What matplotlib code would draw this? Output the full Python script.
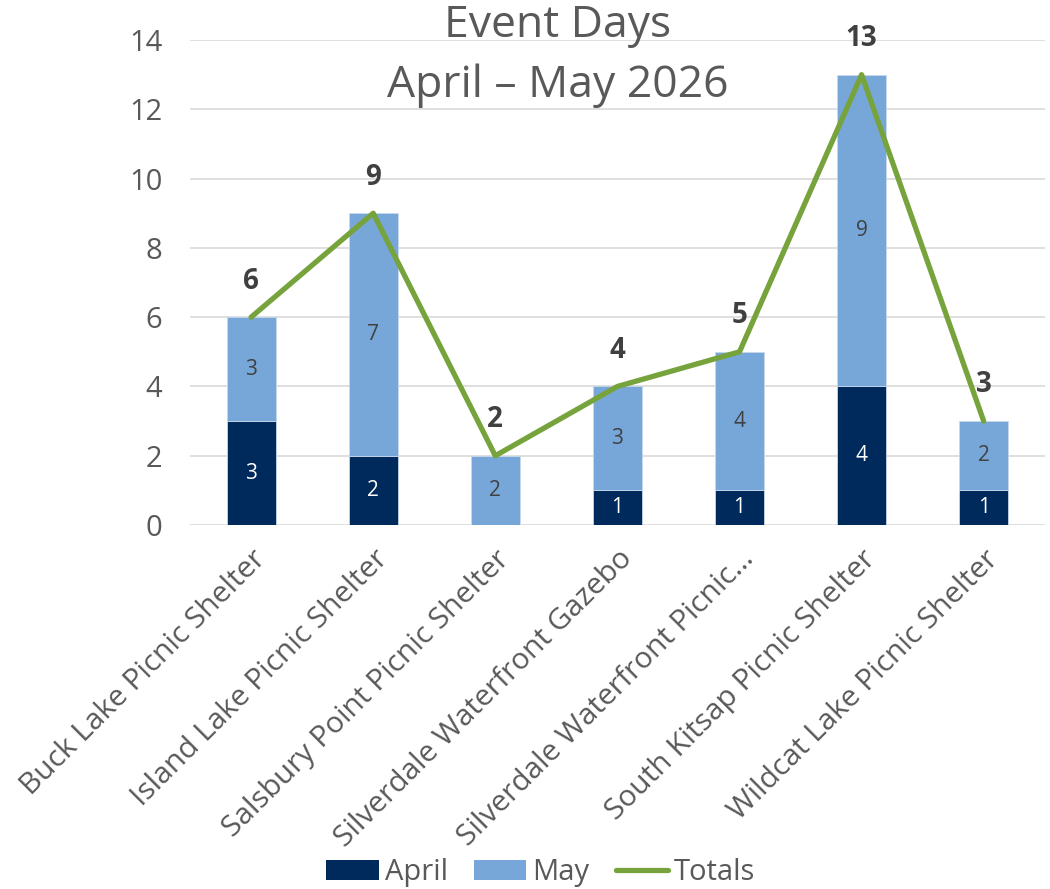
import matplotlib
matplotlib.use("Agg")
import matplotlib.pyplot as plt
import numpy as np
from matplotlib.patches import Patch
from matplotlib.lines import Line2D

categories = ["Buck Lake Picnic Shelter", "Island Lake Picnic Shelter",
              "Salsbury Point Picnic Shelter", "Silverdale Waterfront Gazebo",
              "Silverdale Waterfront Picnic…", "South Kitsap Picnic Shelter",
              "Wildcat Lake Picnic Shelter"]
april = [3, 2, 0, 1, 1, 4, 1]
may = [3, 7, 2, 3, 4, 9, 2]
totals = [6, 9, 2, 4, 5, 13, 3]
yticks = [0, 2, 4, 6, 8, 10, 12, 14]

plt.rcParams['font.family'] = ['Open Sans', 'DejaVu Sans']
C_APR = "#002A5C"
C_MAY = "#77A7D8"
C_TOT = "#77A33C"
GRAY = "#595959"

fig = plt.figure(figsize=(10.5, 8.89), dpi=100)
ax = fig.add_axes([0.181, 0.4094, 0.814, 0.5456])
x = np.arange(len(categories))
w = 0.4
ax.bar(x, april, w, color=C_APR, edgecolor="#C9D8EA", linewidth=0.6, zorder=2)
ax.bar(x, may, w, bottom=april, color=C_MAY, edgecolor="#C9D8EA", linewidth=0.6, zorder=2)
ax.plot(x, totals, color=C_TOT, linewidth=3.8, zorder=3, solid_capstyle='round')

for i in range(len(x)):
    if april[i] > 0:
        ax.text(x[i], april[i] / 2, str(april[i]), ha='center', va='center',
                color='white', fontsize=15, zorder=4)
    if may[i] > 0:
        ax.text(x[i], april[i] + may[i] / 2, str(may[i]), ha='center', va='center',
                color='#404040', fontsize=15, zorder=4)
    ax.annotate(str(totals[i]), (x[i], totals[i]), xytext=(0, 26), textcoords='offset points',
                ha='center', va='center', fontsize=20, fontweight='bold', color='#404040', zorder=5)

ax.set_xlim(-0.5, len(x) - 0.5)
ax.set_ylim(0, 14)
ax.set_yticks(yticks)
ax.set_yticklabels([str(v) for v in yticks], fontsize=21, color=GRAY)
ax.yaxis.grid(True, color="#D9D9D9", linewidth=1.2, zorder=0)
ax.set_axisbelow(True)
ax.set_xticks(x)
ax.set_xticklabels(categories, rotation=45, ha='right', rotation_mode='anchor',
                   fontsize=21.5, color=GRAY)
ax.tick_params(axis='both', length=0)
ax.tick_params(axis='y', pad=20)
ax.tick_params(axis='x', pad=14)
for s in ax.spines.values():
    s.set_visible(False)

fig.text(0.531, 0.971, "Event Days", ha='center', va='center', fontsize=32, color=GRAY)
fig.text(0.531, 0.904, "April – May 2026", ha='center', va='center', fontsize=32, color=GRAY)

handles = [Patch(facecolor=C_APR, label="April"),
           Patch(facecolor=C_MAY, label="May"),
           Line2D([0], [0], color=C_TOT, linewidth=3.8, label="Totals", solid_capstyle='round')]
leg = fig.legend(handles=handles, loc='center', bbox_to_anchor=(0.515, 0.018), ncol=3,
                 frameon=False, fontsize=21, handlelength=1.8, handleheight=0.7,
                 columnspacing=0.9, handletextpad=0.2)
for t in leg.get_texts():
    t.set_color(GRAY)

fig.savefig("out.png", dpi=100)
